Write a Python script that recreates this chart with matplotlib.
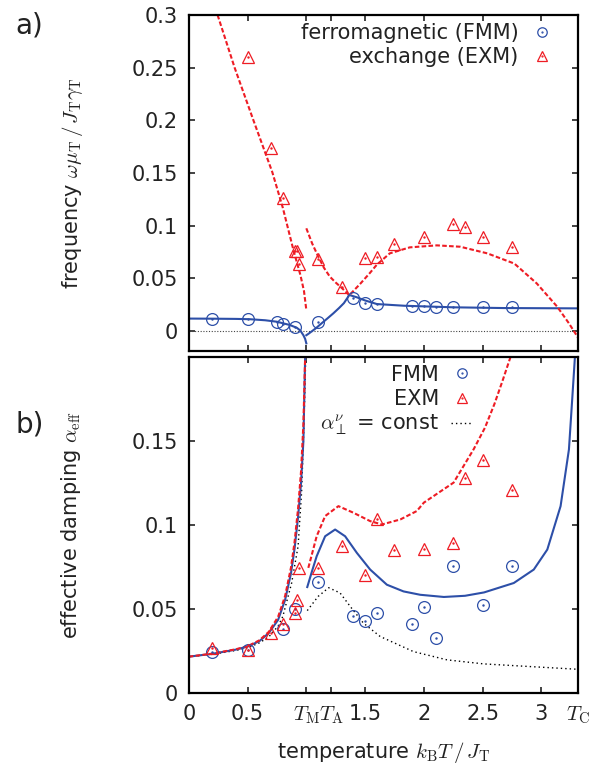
import matplotlib.pyplot as plt
import numpy as np

plt.rcParams['font.family'] = 'DejaVu Sans'
plt.rcParams['mathtext.fontset'] = 'cm'
plt.rcParams['font.size'] = 15

BLUE = '#2d4fa8'
RED = '#ee1c24'

T_M = 1.0
T_A = 1.21
T_C = 3.31

# ---- a) frequency, simulation points
fmm_T_a = [0.2, 0.5, 0.75, 0.8, 0.9, 1.1, 1.4, 1.5, 1.6, 1.9, 2.0, 2.1, 2.25, 2.5, 2.75]
fmm_w_a = [0.0114, 0.0114, 0.0086, 0.0068, 0.0035, 0.0088, 0.031, 0.027, 0.0255,
           0.024, 0.024, 0.023, 0.0225, 0.023, 0.023]
exm_T_a = [0.5, 0.7, 0.8, 0.9, 0.92, 0.94, 1.1, 1.3, 1.5, 1.6, 1.75, 2.0, 2.25, 2.35, 2.5, 2.75]
exm_w_a = [0.260, 0.174, 0.126, 0.076, 0.076, 0.064, 0.068, 0.0414, 0.069, 0.0703,
           0.0826, 0.0895, 0.1015, 0.099, 0.0895, 0.0794]

# ---- a) frequency, theory curves
fmm_th_T1 = [0, 0.2, 0.4, 0.52, 0.65, 0.75, 0.86, 0.92, 0.95, 0.975, 0.99, 1.0]
fmm_th_w1 = [0.0118, 0.0117, 0.0115, 0.0112, 0.0102, 0.0088, 0.0057, 0.0030, 0.0003,
             -0.004, -0.0075, -0.0117]
fmm_th_T2 = [1.0, 1.02, 1.08, 1.13, 1.18, 1.23, 1.28, 1.32, 1.366, 1.43, 1.5, 1.6, 1.83,
             2.25, 2.68, 3.31]
fmm_th_w2 = [-0.004, -0.0025, 0.0025, 0.0073, 0.012, 0.0168, 0.022, 0.0265, 0.0342,
             0.032, 0.029, 0.0256, 0.024, 0.0225, 0.0218, 0.0215]
exm_th_T1 = [0.245, 0.39, 0.55, 0.71, 0.80, 0.89, 0.95, 0.98, 1.0]
exm_th_w1 = [0.30, 0.25, 0.20, 0.151, 0.117, 0.077, 0.053, 0.038, 0.02]
exm_th_T2 = [1.0, 1.05, 1.10, 1.15, 1.2, 1.25, 1.3, 1.366, 1.46, 1.54, 1.6, 1.71, 1.88,
             2.11, 2.31, 2.54, 2.77, 2.96, 3.135, 3.234, 3.31]
exm_th_w2 = [0.0975, 0.083, 0.071, 0.060, 0.0516, 0.046, 0.041, 0.034, 0.045, 0.055,
             0.063, 0.0737, 0.0794, 0.0813, 0.080, 0.0737, 0.064, 0.0452, 0.023, 0.0073, -0.006]

# ---- b) damping, simulation points
fmm_T_b = [0.2, 0.5, 0.8, 0.9, 1.1, 1.4, 1.5, 1.6, 1.9, 2.0, 2.1, 2.25, 2.5, 2.75]
fmm_a_b = [0.0248, 0.0258, 0.0381, 0.0501, 0.066, 0.0461, 0.0433, 0.0477, 0.0412,
           0.0511, 0.0328, 0.0755, 0.0527, 0.0755]
exm_T_b = [0.2, 0.5, 0.7, 0.8, 0.9, 0.92, 0.94, 1.1, 1.3, 1.5, 1.6, 1.75, 2.0, 2.25, 2.35, 2.5, 2.75]
exm_a_b = [0.0272, 0.0258, 0.0358, 0.0415, 0.0478, 0.0557, 0.0746, 0.0746, 0.0875,
           0.0702, 0.1038, 0.0851, 0.0859, 0.0891, 0.128, 0.1388, 0.1207]

# ---- b) damping, theory curves
fmm_th_Tb1 = [0, 0.2, 0.4, 0.5, 0.6, 0.68, 0.76, 0.82, 0.87, 0.9, 0.93, 0.955, 0.975, 0.99]
fmm_th_ab1 = [0.0218, 0.0235, 0.026, 0.0278, 0.031, 0.0358, 0.0437, 0.0557, 0.0716,
              0.086, 0.105, 0.125, 0.15, 0.2]
exm_th_Tb1 = [0, 0.2, 0.4, 0.5, 0.6, 0.68, 0.76, 0.82, 0.87, 0.9, 0.93, 0.955, 0.975, 0.99]
exm_th_ab1 = [0.0218, 0.0236, 0.0262, 0.028, 0.0315, 0.0365, 0.0455, 0.058, 0.075,
              0.09, 0.11, 0.132, 0.16, 0.2]
const_Tb1 = [0, 0.2, 0.4, 0.5, 0.6, 0.68, 0.76, 0.8, 0.875, 0.93, 0.96, 0.98, 0.995]
const_ab1 = [0.0218, 0.0232, 0.0255, 0.027, 0.030, 0.0335, 0.040, 0.0457, 0.0656,
             0.0875, 0.12, 0.16, 0.2]
fmm_th_Tb2 = [1.008, 1.05, 1.088, 1.16, 1.245, 1.33, 1.43, 1.543, 1.685, 1.827, 1.969,
              2.17, 2.35, 2.512, 2.765, 2.935, 3.05, 3.163, 3.234, 3.262, 3.285]
fmm_th_ab2 = [0.0632, 0.073, 0.0815, 0.0934, 0.0974, 0.0934, 0.0835, 0.0736, 0.0646,
              0.0606, 0.0586, 0.0573, 0.058, 0.060, 0.0656, 0.0736, 0.0855, 0.1113,
              0.145, 0.175, 0.2]
exm_th_Tb2 = [1.017, 1.088, 1.16, 1.273, 1.4, 1.543, 1.643, 1.8, 1.94, 2.0, 2.253,
              2.424, 2.52, 2.6, 2.67, 2.737]
exm_th_ab2 = [0.0746, 0.0934, 0.1054, 0.1113, 0.1074, 0.1024, 0.1004, 0.1034, 0.1084,
              0.1134, 0.1253, 0.1452, 0.158, 0.172, 0.186, 0.2]
const_Tb2 = [1.008, 1.1, 1.19, 1.287, 1.373, 1.485, 1.628, 1.912, 2.197, 2.51, 2.907, 3.31]
const_ab2 = [0.0492, 0.0576, 0.0628, 0.0597, 0.0517, 0.0418, 0.0338, 0.0248, 0.0199,
             0.0175, 0.0159, 0.0143]

xticks = [0, 0.5, T_M, T_A, 1.5, 2, 2.5, 3, T_C]
xticklabels = ['0', '0.5', r'$T_\mathrm{M}$', r'$T_\mathrm{A}$', '1.5', '2', '2.5', '3',
               r'$T_\mathrm{C}$']

fig = plt.figure(figsize=(6.07, 7.72), dpi=100)
ax1 = fig.add_axes([0.311, 0.5453, 0.641, 0.4353])
ax2 = fig.add_axes([0.311, 0.1019, 0.641, 0.4357])

dash = (0, (2.2, 1.1))
mk = dict(linestyle='none', mfc='none', mew=0.9, ms=8.5)
dot = dict(linestyle='none', marker='.', ms=1.5)
leg_kw = dict(loc='upper right', markerfirst=False, frameon=False, fontsize=15,
              handlelength=1.0, handletextpad=0.6, borderaxespad=0.0,
              labelspacing=0.2, markerscale=0.8, labelcolor='#222222')


def style(ax):
    for s in ax.spines.values():
        s.set_linewidth(1.6)
    ax.tick_params(direction='in', length=4, width=1.2, top=True, right=True,
                   labelsize=15, pad=8, colors='#222222')
    ax.set_xlim(0, T_C)
    ax.set_xticks(xticks)


# ---------- panel a
ax1.axhline(0, color='#444444', lw=0.8, ls=(0, (1, 1.5)))
ax1.plot(fmm_th_T1, fmm_th_w1, '-', color=BLUE, lw=1.5)
ax1.plot(fmm_th_T2, fmm_th_w2, '-', color=BLUE, lw=1.5)
ax1.plot(exm_th_T1, exm_th_w1, color=RED, lw=1.5, ls=dash)
ax1.plot(exm_th_T2, exm_th_w2, color=RED, lw=1.5, ls=dash)
h1, = ax1.plot(fmm_T_a, fmm_w_a, marker='o', mec=BLUE, **mk)
h1d, = ax1.plot(fmm_T_a, fmm_w_a, color=BLUE, **dot)
h2, = ax1.plot(exm_T_a, exm_w_a, marker='^', mec=RED, **mk)
h2d, = ax1.plot(exm_T_a, exm_w_a, color=RED, **dot)
style(ax1)
ax1.set_ylim(-0.019, 0.3)
ax1.set_yticks([0, 0.05, 0.1, 0.15, 0.2, 0.25, 0.3])
ax1.set_yticklabels(['0', '0.05', '0.1', '0.15', '0.2', '0.25', '0.3'])
ax1.set_xticklabels([])
ax1.set_ylabel(r'frequency $\omega\mu_\mathrm{T}\,/\,J_\mathrm{T}\gamma_\mathrm{T}$',
               fontsize=15, labelpad=33, color='#222222')
ax1.legend([(h1, h1d), (h2, h2d)], ['ferromagnetic (FMM)', 'exchange (EXM)'],
           bbox_to_anchor=(0.955, 1.0), **leg_kw)

# ---------- panel b
ax2.plot(const_Tb1, const_ab1, color='black', lw=1.0, ls=(0, (1, 2.2)))
ax2.plot(const_Tb2, const_ab2, color='black', lw=1.0, ls=(0, (1, 2.2)))
ax2.plot(fmm_th_Tb1, fmm_th_ab1, '-', color=BLUE, lw=1.5)
ax2.plot(fmm_th_Tb2, fmm_th_ab2, '-', color=BLUE, lw=1.5)
ax2.plot(exm_th_Tb1, exm_th_ab1, color=RED, lw=1.5, ls=dash)
ax2.plot(exm_th_Tb2, exm_th_ab2, color=RED, lw=1.5, ls=dash)
g1, = ax2.plot(fmm_T_b, fmm_a_b, marker='o', mec=BLUE, **mk)
g1d, = ax2.plot(fmm_T_b, fmm_a_b, color=BLUE, **dot)
g2, = ax2.plot(exm_T_b, exm_a_b, marker='^', mec=RED, **mk)
g2d, = ax2.plot(exm_T_b, exm_a_b, color=RED, **dot)
g3, = ax2.plot([], [], color='black', lw=1.0, ls=(0, (1, 2.2)))
style(ax2)
ax2.set_ylim(0, 0.2)
ax2.set_yticks([0, 0.05, 0.1, 0.15])
ax2.set_yticklabels(['0', '0.05', '0.1', '0.15'])
ax2.set_xticklabels(xticklabels)
ax2.set_ylabel(r'effective damping $\alpha_\mathrm{eff}$', fontsize=15, labelpad=35,
               color='#222222')
ax2.set_xlabel(r'temperature $k_\mathrm{B}T\,/\,J_\mathrm{T}$', fontsize=15, labelpad=10,
               color='#222222')
ax2.legend([(g1, g1d), (g2, g2d), g3], ['FMM', 'EXM', r'$\alpha_\perp^\nu$ = const'],
           bbox_to_anchor=(0.75, 1.002), **leg_kw)

fig.text(0.025, 0.985, 'a)', fontsize=20, va='top', color='#222222')
fig.text(0.025, 0.45, 'b)', fontsize=20, va='center', color='#222222')

fig.savefig('out.png', dpi=100)
